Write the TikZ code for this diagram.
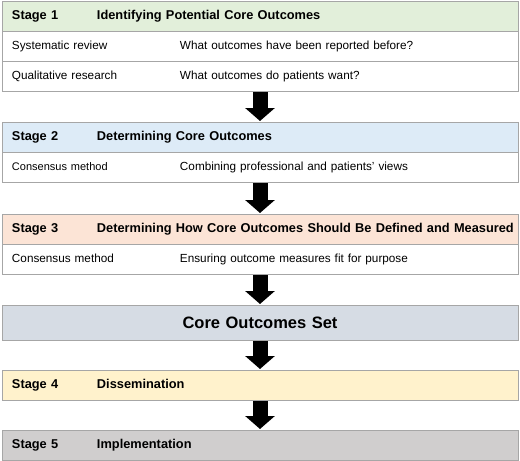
\documentclass[tikz,border=0pt]{standalone}
\usepackage{fontspec}
\setmainfont{Liberation Sans}
\usetikzlibrary{positioning,arrows.meta}
\definecolor{boxline}{HTML}{A6A6A6}
\definecolor{hdrgreen}{HTML}{E2EFDA}
\definecolor{hdrblue}{HTML}{DDEBF7}
\definecolor{hdrorange}{HTML}{FCE4D6}
\definecolor{hdrcore}{HTML}{D6DCE4}
\definecolor{hdryellow}{HTML}{FFF2CC}
\definecolor{hdrgrey}{HTML}{D0CECE}
\newcommand{\stagecol}[1]{\makebox[85pt][l]{#1}}
\newcommand{\rowcol}[1]{\makebox[168pt][l]{#1}}

\tikzset{
  box/.style={rectangle, draw=boxline, line width=1pt, outer sep=0pt,
    minimum width=516pt, minimum height=30pt, inner xsep=10pt, inner ysep=0pt,
    text width=496pt, align=left, anchor=north west},
  hdr/.style={box, fill=#1, font=\fontsize{12.8}{15}\selectfont\bfseries},
  row/.style={box, fill=white, font=\fontsize{11.75}{14}\selectfont},
  flowarrow/.style={line width=15pt, -{Triangle[width=29pt,length=13pt]},
    shorten >=1pt, shorten <=1pt}
}

\begin{document}
\begin{tikzpicture}[x=1pt,y=-1pt]
  \useasboundingbox (0,0) rectangle (520,461);

  % stage 1
  \node [hdr=hdrgreen] (st1) at (2,1)
    {\stagecol{Stage 1}Identifying Potential Core Outcomes};
  \node [row, below=0pt of st1] (st1a)
    {\rowcol{Systematic review}What outcomes have been reported before?};
  \node [row, below=0pt of st1a] (st1b)
    {\rowcol{Qualitative research}What outcomes do patients want?};

  % stage 2
  \node [hdr=hdrblue] (st2) at (2,122)
    {\stagecol{Stage 2}Determining Core Outcomes};
  \node [row, below=0pt of st2] (st2a)
    {\rowcol{\fontsize{11}{13}\selectfont Consensus method}Combining professional and patients' views};

  % stage 3
  \node [hdr=hdrorange] (st3) at (2,214)
    {\stagecol{Stage 3}\mbox{Determining How Core Outcomes Should Be Defined and Measured}};
  \node [row, below=0pt of st3] (st3a)
    {\rowcol{Consensus method}Ensuring outcome measures fit for purpose};

  % core set
  \node [hdr=hdrcore, minimum height=35pt, align=center,
    font=\fontsize{16.5}{20}\selectfont\bfseries] (core) at (2,305)
    {Core Outcomes Set};

  % stages 4 and 5
  \node [hdr=hdryellow] (st4) at (2,370)
    {\stagecol{Stage 4}Dissemination};
  \node [hdr=hdrgrey] (st5) at (2,430)
    {\stagecol{Stage 5}Implementation};

  % arrows
  \draw [flowarrow] (st1b.south) -- (st2.north);
  \draw [flowarrow] (st2a.south) -- (st3.north);
  \draw [flowarrow] (st3a.south) -- (core.north);
  \draw [flowarrow] (core.south) -- (st4.north);
  \draw [flowarrow] (st4.south) -- (st5.north);
\end{tikzpicture}
\end{document}
